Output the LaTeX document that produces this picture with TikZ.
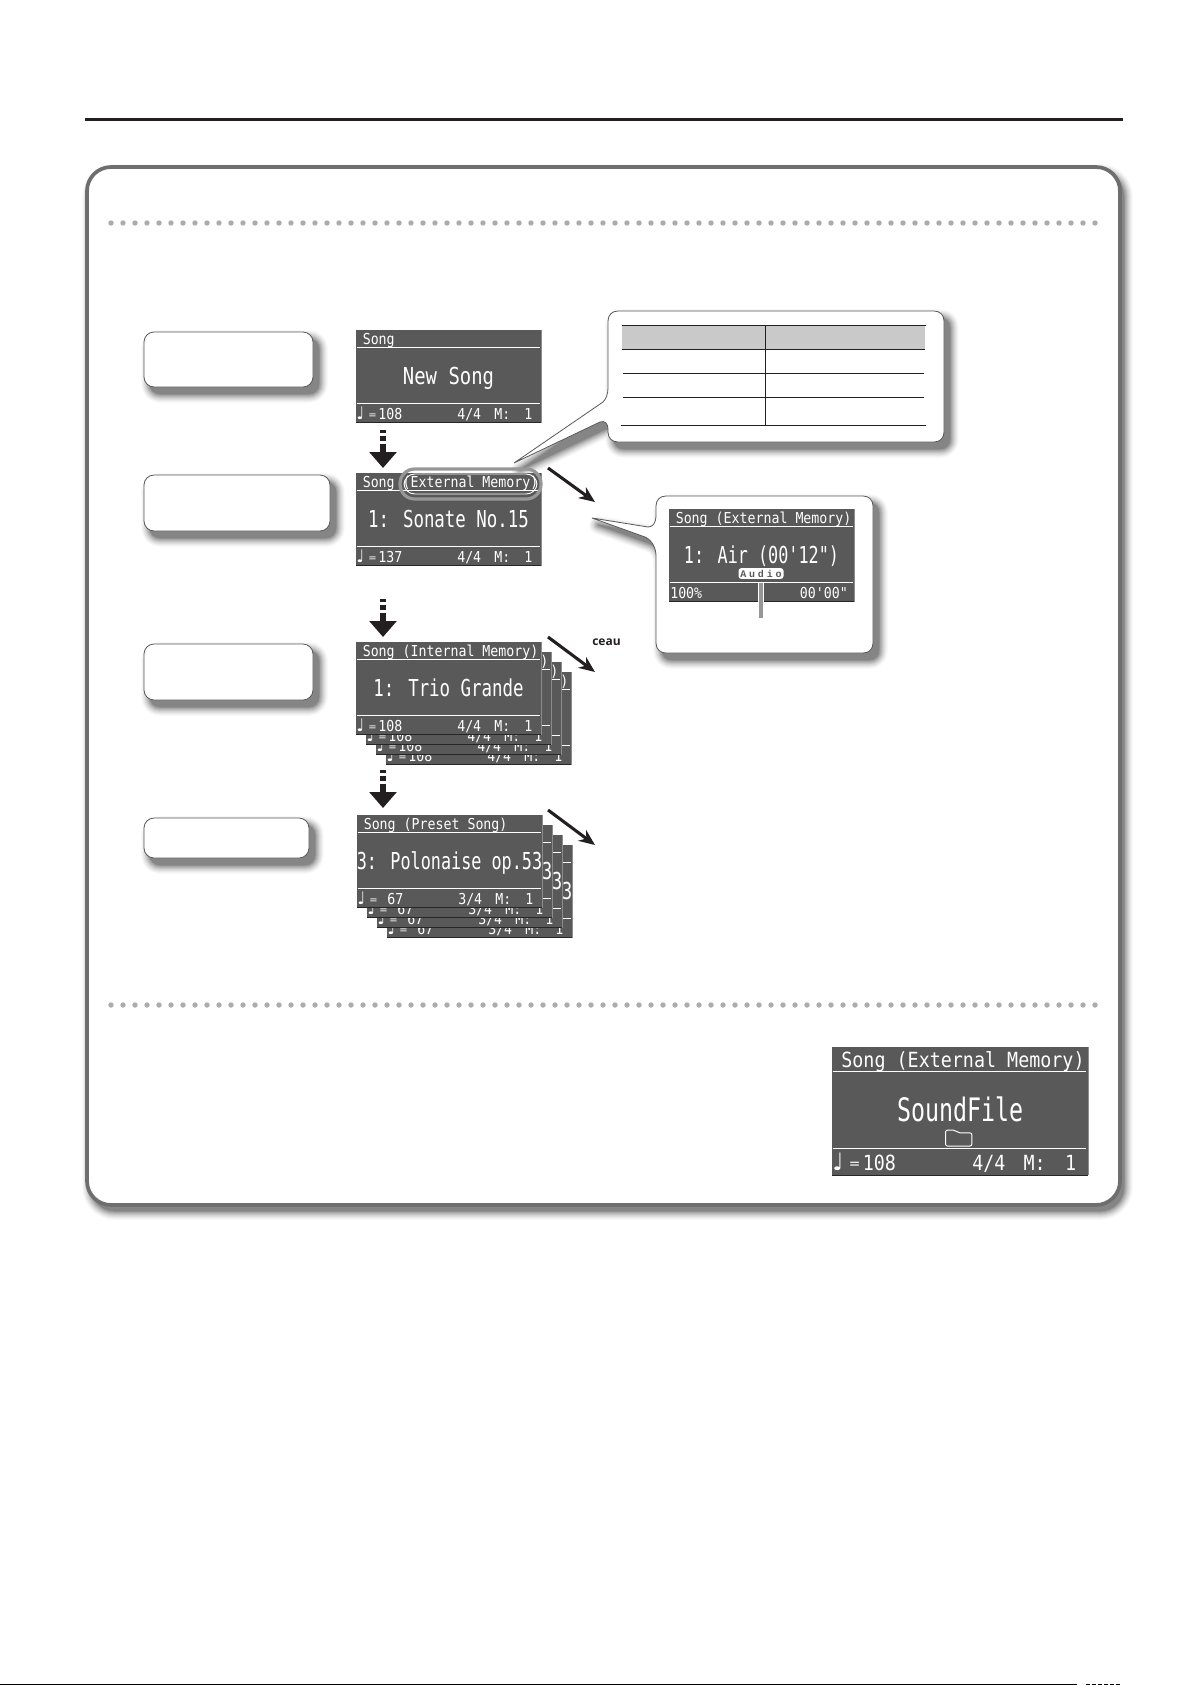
\documentclass[tikz,border=0pt]{standalone}
\usepackage{fontspec}
\usetikzlibrary{arrows.meta}
\setmainfont{Liberation Sans}
\newfontfamily\lcdT[FakeStretch=0.88]{DejaVu Sans Mono}
\newfontfamily\lcdM[FakeStretch=0.747]{DejaVu Sans Mono}
\newfontfamily\lcdN[FakeStretch=0.72]{DejaVu Sans Mono}
\newfontfamily\lcdW[FakeStretch=0.81]{DejaVu Sans Mono}
\newfontfamily\lcdwide[LetterSpace=28]{Liberation Mono Bold}
\newfontfamily\notefont{DejaVu Sans}
\newfontfamily\labelfont{Open Sans}
\newcommand{\mainsize}{\fontsize{17.5}{20}\selectfont}
\definecolor{lcd}{HTML}{595959}
\definecolor{bordergray}{HTML}{6E6E6E}
\definecolor{dotgray}{HTML}{ABABAB}
\definecolor{headgray}{HTML}{C9C9C9}
\definecolor{ringgray}{HTML}{979797}
\definecolor{darkrule}{HTML}{231F20}
\tikzset{
  lcdtitle/.style={anchor=base west,inner sep=0pt,text=white,font=\lcdT\fontsize{11.3}{13}\selectfont},
  lcdmain/.style={anchor=base,inner sep=0pt,text=white,font=\lcdM\mainsize},
  lcdfoot/.style={anchor=base west,inner sep=0pt,text=white,font=\lcdT\fontsize{11.3}{13}\selectfont},
  softbox/.style={draw=black!65,line width=0.6pt,fill=white},
  diagarrow/.style={draw=darkrule,line width=2.3pt,-{Stealth[length=12pt,width=10pt]}},
  blockarrow/.style={draw=darkrule,line width=5.2pt,dash pattern=on 2.6pt off 2.2pt on 3.7pt off 2.2pt on 40pt off 0pt,
    -{Triangle[length=12pt,width=20pt]}},
}
% soft shadow built from opaque grey strokes: #1 = offset, #2 = path
\newcommand{\softshadow}[2]{%
  \foreach \w/\g in {13/3,11.5/6,10/10,8.5/14,7/19,5.5/25,4/31,2.5/37,1/43,0.1/48}{%
    \path[shift={#1},fill=black!\g,draw=black!\g,line width=\w pt,line join=round] #2;
  }%
}
\newcommand{\stdfooter}[3]{% name, tempo, metre
  \node[lcdfoot,font=\notefont\fontsize{13}{14}\selectfont] (#1n) at (0,89) {♩};
  \node[lcdfoot,font=\notefont\fontsize{7.5}{9}\selectfont] (#1e) at (12,88) {=};
  \node[lcdfoot,anchor=base east] (#1t) at (46.5,89) {#2};
  \node[lcdfoot] (#1m) at (101,89) {#3};
  \node[lcdfoot] (#1b) at (138,89) {M:};
  \node[lcdfoot] (#1c) at (168,89) {1};
}
% name, x, y, scale, title, main, extra
\newcommand{\screen}[7]{%
  \begin{scope}[shift={(#2,#3)},scale=#4,transform shape]
    \fill[lcd] (0,0) rectangle (185,92.5);
    \draw[black!45,line width=0.5pt] (185,0) -- (185,92.5);
    \draw[black!85,line width=0.5pt] (0,92.5) -- (185,92.5);
    \node[lcdtitle] (#1h) at (6.5,14.5) {#5};
    \node[lcdmain] (#1x) at (92.5,54) {#6};
    \draw[white,line width=0.8pt] (0.5,17.5) -- (183.5,17.5);
    \draw[white,line width=0.8pt] (0.5,73.5) -- (183.5,73.5);
    #7
  \end{scope}%
}
\begin{document}
\begin{tikzpicture}[x=0.75pt,y=-0.75pt]
\useasboundingbox (0,0) rectangle (1192,1685);
\fill[white] (0,0) rectangle (1192,1685);
% top and bottom rules
\coordinate (ruleL) at (85,119.5);
\coordinate (ruleR) at (1123,119.5);
\draw[darkrule,line width=2.3pt] (ruleL) -- (ruleR);
\coordinate (footL) at (0,1684.5);
\coordinate (footR) at (1077,1684.5);
\coordinate (footD) at (1086,1684.5);
\coordinate (footE) at (1120,1684.5);
\draw[black,line width=0.9pt] (footL) -- (footR);
\draw[black,line width=0.9pt,dash pattern=on 3pt off 1.5pt] (footD) -- (footE);
% outer panel
\softshadow{(4,6)}{[rounded corners=18pt] (87,167) rectangle (1120,1205)}
\draw[bordergray,line width=2.8pt,fill=white,rounded corners=18pt] (87,167) rectangle (1120,1205);
% dotted separators
\foreach \i in {0,...,82}{
  \fill[dotgray] (111+12*\i,223) circle (2.7);
  \fill[dotgray] (111+12*\i,1005) circle (2.7);
}
% step boxes
\softshadow{(6,7)}{[rounded corners=7.5pt] (144,332) rectangle (313,387)}
\node[softbox,rounded corners=7.5pt,minimum width=126.75pt,minimum height=41.25pt,inner sep=0pt] (stepA) at (228.5,359.5) {};
\softshadow{(6,7)}{[rounded corners=7.5pt] (144,475) rectangle (330,531)}
\node[softbox,rounded corners=7.5pt,minimum width=139.5pt,minimum height=42pt,inner sep=0pt] (stepB) at (237,503) {};
\softshadow{(6,7)}{[rounded corners=7.5pt] (144,644) rectangle (313,700)}
\node[softbox,rounded corners=7.5pt,minimum width=126.75pt,minimum height=42pt,inner sep=0pt] (stepC) at (228.5,672) {};
\softshadow{(6,7)}{[rounded corners=7.5pt] (144,818) rectangle (309,858)}
\node[softbox,rounded corners=7.5pt,minimum width=123.75pt,minimum height=30pt,inner sep=0pt] (stepD) at (226.5,838) {};
% callout shapes
\def\calloutA{(618,311) -- (934,311) .. controls (940,311) and (944,315) .. (944,321) -- (944,432) .. controls (944,438) and (940,442) .. (934,442) -- (618,442) .. controls (612,442) and (608,438) .. (608,432) -- (608,429) .. controls (608,424) and (605,420) .. (600,422) -- (514,463) -- (603,402) .. controls (606,399) and (608,394) .. (608,388) -- (608,321) .. controls (608,315) and (612,311) .. (618,311) -- cycle}
\def\calloutB{(666,496) -- (863,496) .. controls (869,496) and (873,500) .. (873,506) -- (873,643) .. controls (873,649) and (869,653) .. (863,653) -- (666,653) .. controls (660,653) and (656,649) .. (656,643) -- (656,556) .. controls (656,548) and (652,540) .. (645,537) -- (592,518) -- (648,527) .. controls (653,527) and (656,523) .. (656,515) -- (656,506) .. controls (656,500) and (660,496) .. (666,496) -- cycle}
\softshadow{(6,7)}{\calloutA}
\softshadow{(6,7)}{\calloutB}
% screens
\screen{sa}{356}{330}{1}{Song}{\lcdW New Song}{\stdfooter{sa}{108}{4/4}}
\screen{sb}{356}{473}{1}{Song (External Memory)}{1: Sonate No.15}{\stdfooter{sb}{137}{4/4}}
\screen{scc}{386}{672}{1}{Song (Internal Memory)}{1: Trio Grande}{\stdfooter{scc}{108}{4/4}}
\screen{scb}{376}{662}{1}{Song (Internal Memory)}{1: Trio Grande}{\stdfooter{scb}{108}{4/4}}
\screen{sca}{366}{652}{1}{Song (Internal Memory)}{1: Trio Grande}{\stdfooter{sca}{108}{4/4}}
\screen{sc}{356}{642}{1}{Song (Internal Memory)}{1: Trio Grande}{\stdfooter{sc}{108}{4/4}}
\screen{sdc}{387}{845}{1}{Song (Preset Song)}{\lcdN 3: Polonaise op.53}{\stdfooter{sdc}{67}{3/4}}
\screen{sdb}{377}{835}{1}{Song (Preset Song)}{\lcdN 3: Polonaise op.53}{\stdfooter{sdb}{67}{3/4}}
\screen{sda}{367}{825}{1}{Song (Preset Song)}{\lcdN 3: Polonaise op.53}{\stdfooter{sda}{67}{3/4}}
\screen{sd}{357}{815}{1}{Song (Preset Song)}{\lcdN 3: Polonaise op.53}{\stdfooter{sd}{67}{3/4}}
% highlight ring
\draw[ringgray,line width=2.4pt,rounded corners=11pt] (400,469) rectangle (541,499);
\draw[white,line width=0.7pt,rounded corners=8pt] (404,474) rectangle (537,494);
% callout 1
\draw[black!65,line width=0.6pt,fill=white] \calloutA;
\fill[headgray] (622,325) rectangle (925,349);
\foreach \yy/\xa/\xb in {325/622/926,349/622/925,373/623/924,397/623/924,425/621/926}{
  \draw[darkrule,line width=0.65pt] (\xa,\yy) -- (\xb,\yy);
}
\draw[darkrule,line width=0.65pt] (765,325) -- (765,425);
% callout 2
\draw[black!65,line width=0.6pt,fill=white] \calloutB;
\screen{se}{669}{509}{1}{Song (External Memory)}{\lcdN 1: Air (00'12")}{
  \node[lcdfoot] (sef) at (1,89) {100\%};
  \node[lcdfoot,anchor=base east] (seg) at (179,89) {00'00"};
  \node[fill=white,rounded corners=2pt,minimum width=33.75pt,minimum height=8pt,inner sep=0pt,text=lcd,
        font=\lcdwide\fontsize{7.5}{8}\selectfont] (seb) at (92,64.5) {Audio};
}
\coordinate (barT) at (761,583);
\coordinate (barB) at (761,618);
\draw[white,line width=4.4pt] (barT) -- (761,602);
\draw[ringgray,line width=3pt] (barT) -- (barB);
% bottom screen
\screen{sf}{832}{1047}{1.385}{Song (External Memory)}{\lcdN SoundFile}{\stdfooter{sf}{108}{4/4}
  \draw[white,line width=0.7pt,rounded corners=1.5pt] (82,71.5) -- (82,60) -- (89,60) -- (91,62) -- (101,62) -- (101,71.5) -- cycle;
}
% block arrows
\coordinate (baA) at (383,430); \coordinate (baAe) at (383,468);
\coordinate (baB) at (383,599); \coordinate (baBe) at (383,637);
\coordinate (baC) at (383,770); \coordinate (baCe) at (383,808);
\draw[blockarrow] (baA) -- (baAe);
\draw[blockarrow] (baB) -- (baBe);
\draw[blockarrow] (baC) -- (baCe);
% diagonal arrows
\coordinate (daA) at (548,468); \coordinate (daAe) at (595,502);
\coordinate (daB) at (548,637); \coordinate (daBe) at (595,672);
\coordinate (daC) at (548,810); \coordinate (daCe) at (595,845);
\draw[diagarrow] (daA) -- (daAe);
\draw[diagarrow] (daB) -- (daBe);
\draw[diagarrow] (daC) -- (daCe);
% stray text
\node[anchor=base west,inner sep=0pt,text=darkrule,font=\labelfont\bfseries\fontsize{9}{11}\selectfont] (ceau) at (592,645) {ceau};
\end{tikzpicture}
\end{document}
